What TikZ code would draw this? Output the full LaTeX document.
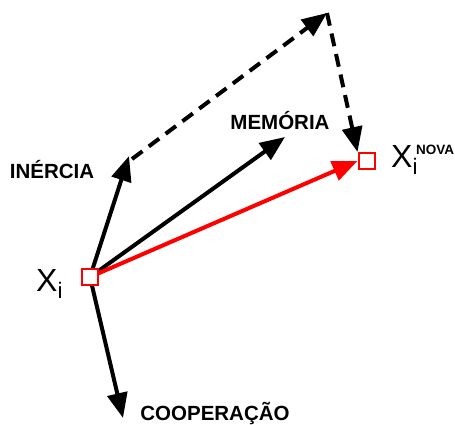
\documentclass[tikz,border=0pt]{standalone}
\usepackage{fontspec}
\setmainfont{Liberation Sans}
\usetikzlibrary{arrows.meta}
\begin{document}
\begin{tikzpicture}[x=1pt,y=-1pt,
  vec/.style={line width=4pt,-{Triangle[length=25pt,width=20pt]}},
  dvec/.style={vec,dash pattern=on 13pt off 8pt},
  lbl/.style={font=\fontsize{20.5}{20.5}\selectfont\bfseries,inner sep=0pt},
  posbox/.style={red,draw,fill=white,line width=2pt,minimum size=16pt,inner sep=0pt},
  xlab/.style={font=\fontsize{32}{32}\selectfont,inner sep=0pt,anchor=base west}]
\useasboundingbox (0,0) rectangle (455,424);
\coordinate (inertia) at (129,156);
\coordinate (memoria) at (285,137);
\coordinate (coop) at (123,418);
\coordinate (top) at (327,13);
\coordinate (dstart) at (132,159);
\node[posbox] (xi) at (90,277) {};
\node[posbox] (xn) at (366.5,161) {};
\draw[vec] (xi.center) -- (inertia);
\draw[vec] (xi.center) -- (memoria);
\draw[vec] (xi.center) -- (coop);
\draw[vec,red] (xi.center) -- (xn.west);
\draw[dvec] (dstart) -- (top);
\draw[dvec] (top) -- (xn.north west);
\node[posbox] at (xi) {};
\node[posbox] at (xn) {};
\node[lbl] (l1) at (52,170) {INÉRCIA};
\node[lbl] (l2) at (280,121) {MEMÓRIA};
\node[lbl] (l3) at (215,413) {COOPERAÇÃO};
\node[xlab] (xil) at (36,291) {X\textsubscript{i}};
\node[xlab] (xnl) at (391,167) {X\textsubscript{i}};
\node[font=\fontsize{13.5}{13.5}\selectfont\bfseries,inner sep=0pt,anchor=north west] (nova) at (416,145) {NOVA};
\end{tikzpicture}
\end{document}
